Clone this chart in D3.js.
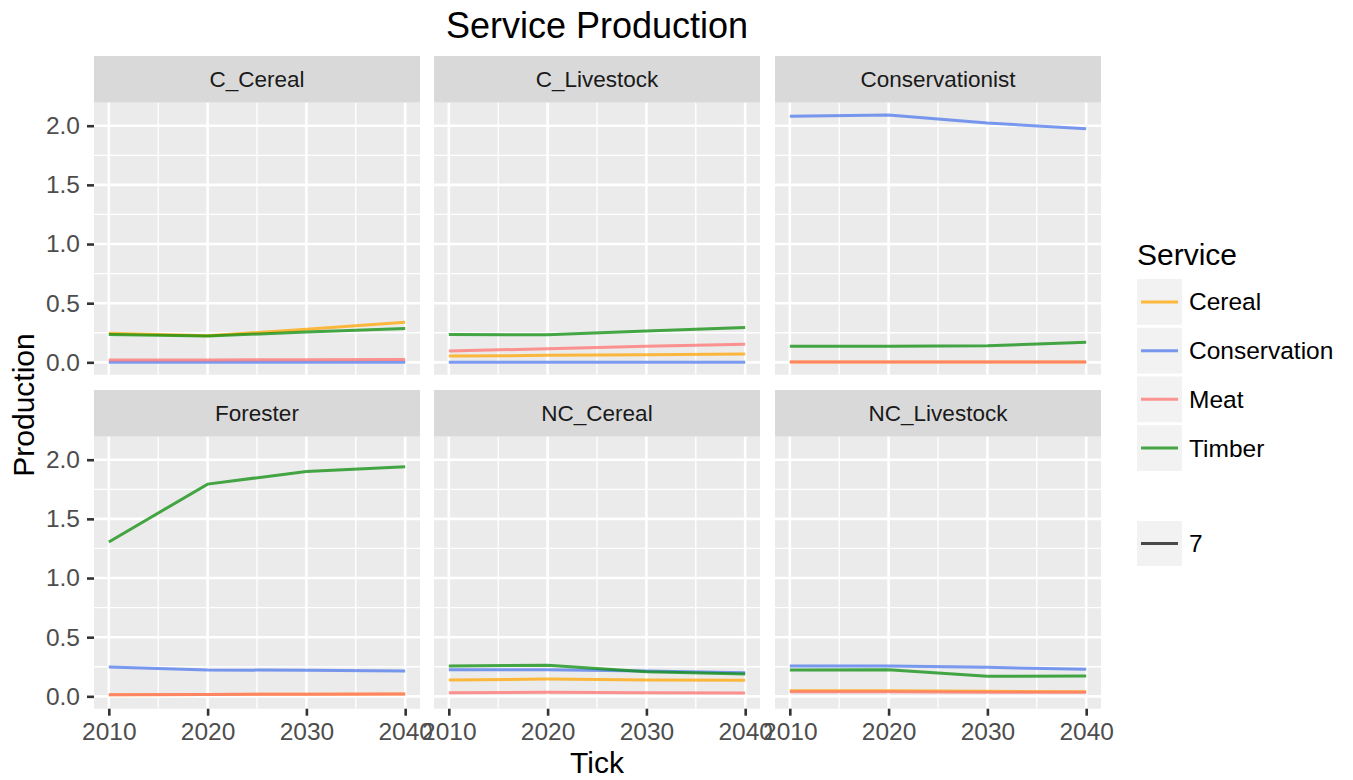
<!DOCTYPE html>
<html>
<head>
<meta charset="utf-8">
<script src="https://cdn.jsdelivr.net/npm/d3@7"></script>
<style>
  body { margin: 0; background: #fff; }
  svg { font-family: "Liberation Sans", Arial, sans-serif; }
</style>
</head>
<body>
<svg id="chart" width="1353" height="780"></svg>
<script>
const years = [2010, 2020, 2030, 2040]
const agents = ["C_Cereal", "C_Livestock", "Conservationist", "Forester", "NC_Cereal", "NC_Livestock"]
const services = ["Cereal", "Conservation", "Meat", "Timber"]
const serviceColors = ["#ffa500", "#4f78ec", "#ff7370", "#0a8c0a"]
const yTicks = [0, 0.5, 1, 1.5, 2]
const sizeLegend = ["7"]

// values per agent, rows in the order of services
const cCereal = [[0.245, 0.225, 0.28, 0.338], [0, 0, 0, 0], [0.02, 0.02, 0.022, 0.025], [0.236, 0.222, 0.256, 0.287]]
const cLivestock = [[0.053, 0.059, 0.065, 0.07], [0, 0, 0, 0], [0.096, 0.115, 0.135, 0.152], [0.236, 0.233, 0.264, 0.295]]
const conservationist = [[0.002, 0.002, 0.002, 0.002], [2.079, 2.09, 2.022, 1.975], [0.002, 0.002, 0.002, 0.002], [0.135, 0.135, 0.141, 0.169]]
const forester = [[0.014, 0.016, 0.018, 0.02], [0.248, 0.223, 0.22, 0.214], [0.014, 0.016, 0.018, 0.02], [1.304, 1.794, 1.901, 1.941]]
const ncCereal = [[0.138, 0.146, 0.138, 0.135], [0.225, 0.225, 0.214, 0.2], [0.031, 0.034, 0.031, 0.028], [0.256, 0.262, 0.208, 0.189]]
const ncLivestock = [[0.048, 0.048, 0.042, 0.039], [0.256, 0.256, 0.245, 0.228], [0.039, 0.039, 0.034, 0.034], [0.222, 0.225, 0.169, 0.172]]

const panelData = [cCereal, cLivestock, conservationist, forester, ncCereal, ncLivestock]

const colX = [94, 434, 775]
const rowY = [56, 390]
const panelW = 326, stripH = 46.7, panelH = 272
const FONT = '"Liberation Sans", Arial, sans-serif'

const svg = d3.select('#chart')

const x = d3.scaleLinear().domain([2008.5, 2041.5]).range([0, panelW])
const y = d3.scaleLinear().domain([-0.1045, 2.1945]).range([panelH, 0])

const xMinor = [2015, 2025, 2035]
const yMinor = [0.25, 0.75, 1.25, 1.75]

const line = d3.line()
  .x((d, i) => x(years[i]))
  .y(d => y(d))

agents.forEach((name, k) => {
  const col = k % 3, row = Math.floor(k / 3)
  const g = svg.append('g')
    .attr('transform', `translate(${colX[col]}, ${rowY[row]})`)

  // strip
  g.append('rect')
    .attr('width', panelW).attr('height', stripH)
    .attr('fill', '#d9d9d9')
  g.append('text')
    .attr('x', panelW / 2).attr('y', stripH / 2 + 8)
    .attr('text-anchor', 'middle')
    .attr('font-size', 22.5)
    .attr('fill', '#1a1a1a')
    .text(name)

  const p = g.append('g').attr('transform', `translate(0, ${stripH})`)
  p.append('rect')
    .attr('width', panelW).attr('height', panelH)
    .attr('fill', '#ebebeb')

  // grid lines
  p.selectAll('.vminor').data(xMinor).enter().append('line')
    .attr('x1', d => x(d)).attr('x2', d => x(d))
    .attr('y1', 0).attr('y2', panelH)
    .attr('stroke', '#fff').attr('stroke-width', 1.3)
  p.selectAll('.hminor').data(yMinor).enter().append('line')
    .attr('y1', d => y(d)).attr('y2', d => y(d))
    .attr('x1', 0).attr('x2', panelW)
    .attr('stroke', '#fff').attr('stroke-width', 1.3)
  p.selectAll('.vmajor').data(years).enter().append('line')
    .attr('x1', d => x(d)).attr('x2', d => x(d))
    .attr('y1', 0).attr('y2', panelH)
    .attr('stroke', '#fff').attr('stroke-width', 2.6)
  p.selectAll('.hmajor').data(yTicks).enter().append('line')
    .attr('y1', d => y(d)).attr('y2', d => y(d))
    .attr('x1', 0).attr('x2', panelW)
    .attr('stroke', '#fff').attr('stroke-width', 2.6)

  // series lines
  p.selectAll('.series').data(panelData[k]).enter().append('path')
    .attr('d', d => line(d))
    .attr('fill', 'none')
    .attr('stroke', (d, i) => serviceColors[i])
    .attr('stroke-opacity', 0.75)
    .attr('stroke-width', 3)

  // y axis on first column
  if (col === 0) {
    const ay = p.append('g')
      .call(d3.axisLeft(y).tickValues(yTicks).tickFormat(d3.format('.1f')).tickSize(7).tickPadding(7))
    ay.select('.domain').remove()
    ay.selectAll('line').attr('stroke', '#333').attr('stroke-width', 2.6)
    ay.selectAll('text').attr('font-size', 24.5).attr('fill', '#4d4d4d')
      .attr('font-family', FONT)
  }
  // x axis on bottom row
  if (row === 1) {
    const ax = p.append('g')
      .attr('transform', `translate(0, ${panelH})`)
      .call(d3.axisBottom(x).tickValues(years).tickFormat(d3.format('d')).tickSize(7).tickPadding(7))
    ax.select('.domain').remove()
    ax.selectAll('line').attr('stroke', '#333').attr('stroke-width', 2.6)
    ax.selectAll('text').attr('font-size', 24.5).attr('fill', '#4d4d4d')
      .attr('font-family', FONT)
  }
})

// title
svg.append('text')
  .attr('x', 597).attr('y', 38)
  .attr('text-anchor', 'middle')
  .attr('font-size', 36)
  .attr('fill', '#000')
  .text('Service Production')

// axis titles
svg.append('text')
  .attr('x', 597).attr('y', 773)
  .attr('text-anchor', 'middle')
  .attr('font-size', 30)
  .text('Tick')

svg.append('text')
  .attr('transform', 'translate(34, 405) rotate(-90)')
  .attr('text-anchor', 'middle')
  .attr('font-size', 30)
  .text('Production')

// legend
const legend = svg.append('g').attr('transform', 'translate(1137, 0)')
legend.append('text')
  .attr('x', 0).attr('y', 265)
  .attr('font-size', 30)
  .text('Service')

const keyY = d3.scaleBand().domain(services).range([279, 279 + 48 * services.length]).paddingInner(0.06)

const keys = legend.selectAll('.key').data(services).enter().append('g')
  .attr('transform', d => `translate(0, ${keyY(d)})`)
keys.append('rect')
  .attr('width', 45).attr('height', keyY.bandwidth())
  .attr('fill', '#f2f2f2')
keys.append('line')
  .attr('x1', 4).attr('x2', 41)
  .attr('y1', keyY.bandwidth() / 2).attr('y2', keyY.bandwidth() / 2)
  .attr('stroke', (d, i) => serviceColors[i])
  .attr('stroke-opacity', 0.75)
  .attr('stroke-width', 3)
keys.append('text')
  .attr('x', 52).attr('y', keyY.bandwidth() / 2 + 8.5)
  .attr('font-size', 24.5)
  .text(d => d)

const sizeKeys = legend.selectAll('.skey').data(sizeLegend).enter().append('g')
  .attr('transform', 'translate(0, 521)')
sizeKeys.append('rect')
  .attr('width', 45).attr('height', 45)
  .attr('fill', '#f2f2f2')
sizeKeys.append('line')
  .attr('x1', 4).attr('x2', 41)
  .attr('y1', 22.5).attr('y2', 22.5)
  .attr('stroke', '#000').attr('stroke-opacity', 0.7)
  .attr('stroke-width', 3)
sizeKeys.append('text')
  .attr('x', 52).attr('y', 31)
  .attr('font-size', 24.5)
  .text(d => d)
</script>
</body>
</html>
